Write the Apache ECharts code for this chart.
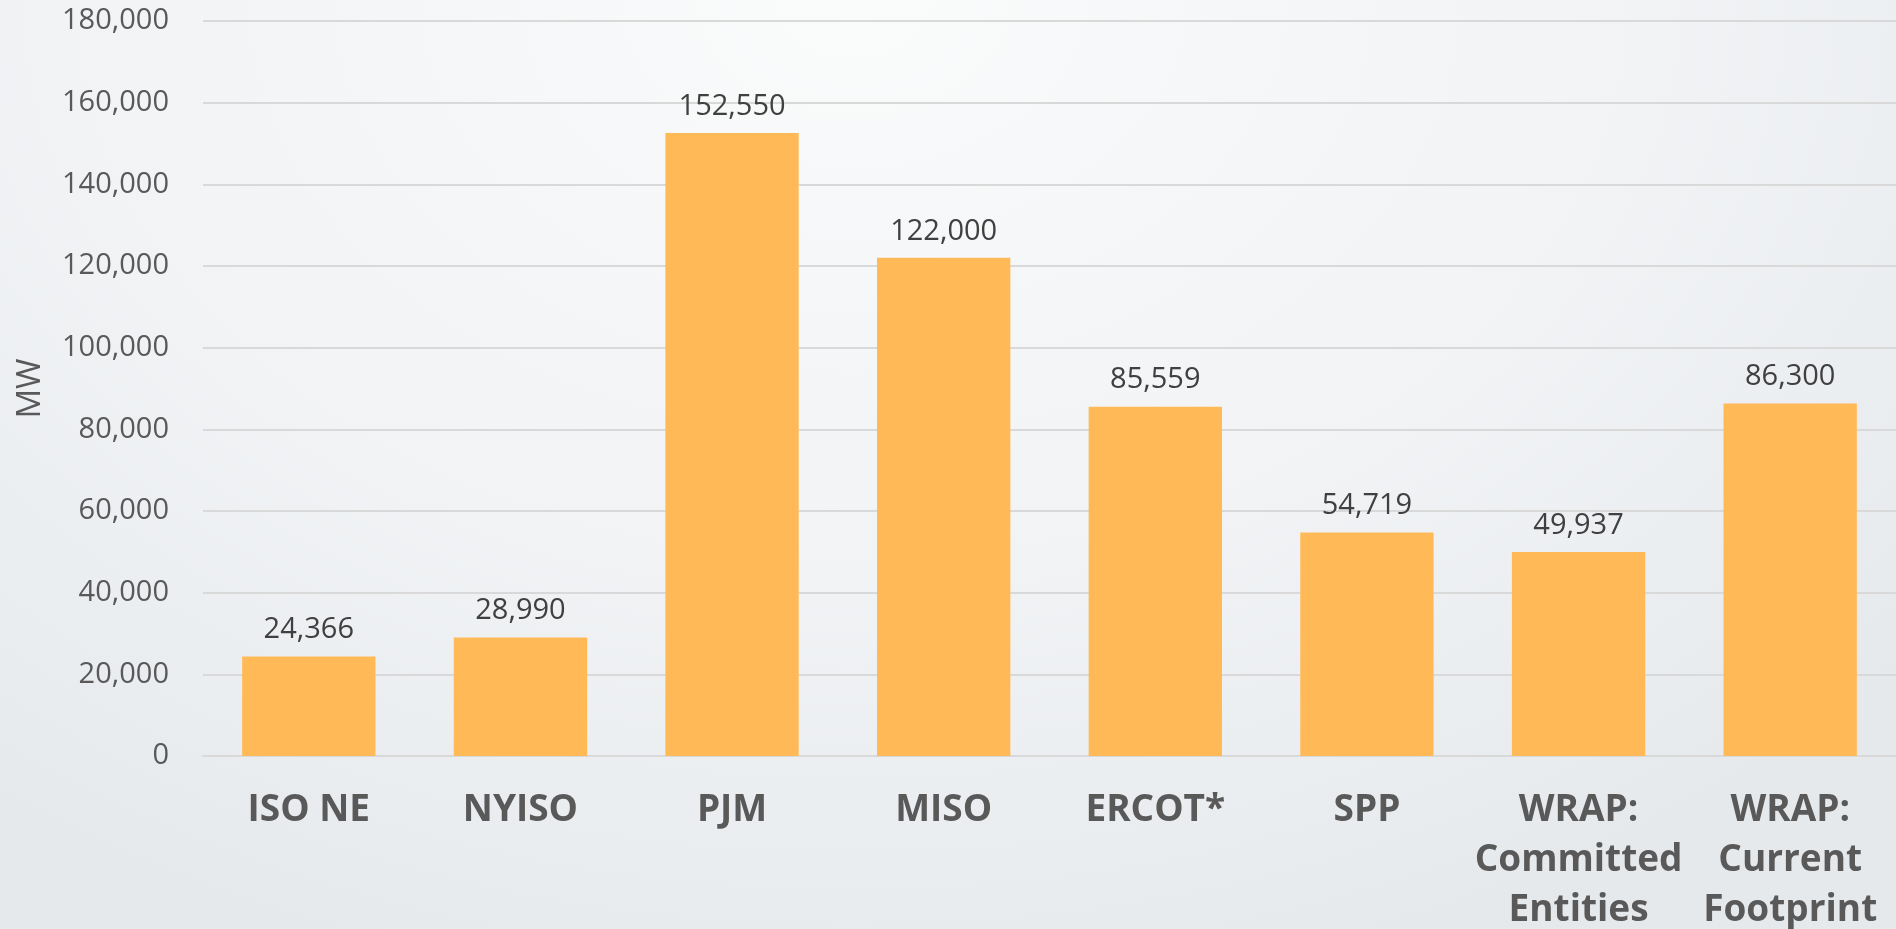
<!DOCTYPE html>
<html>
<head>
    <meta charset="utf-8" />
    <title>MW by region</title>
    <script src="https://cdn.jsdelivr.net/npm/echarts@6/dist/echarts.min.js"></script>
    <style>
        html, body { margin: 0; padding: 0; width: 100%; height: 100%; }
        body { background: radial-gradient(ellipse 75% 110% at 45% 0%, #fafbfb 0%, #f1f3f5 55%, #e6e9ec 100%); }
        #chart { width: 1896px; height: 929px; }
    </style>
</head>
<body>
<div id="chart"></div>
<script>
    // data
    var regions = ['ISO NE', 'NYISO', 'PJM', 'MISO', 'ERCOT*', 'SPP', 'WRAP:\nCommitted\nEntities', 'WRAP:\nCurrent\nFootprint'];
    var mwValues = [24366, 28990, 152550, 122000, 85559, 54719, 49937, 86300];
    var yTicks = [0, 20000, 40000, 60000, 80000, 100000, 120000, 140000, 160000, 180000];

    function fmt(v) {
        return String(v).replace(/\B(?=(\d{3})+(?!\d))/g, ',');
    }

    var myChart = echarts.init(document.getElementById('chart'));
    var font = '"Open Sans", "Noto Sans", sans-serif';
    myChart.setOption({
        backgroundColor: 'transparent',
        textStyle: { fontFamily: font },
        grid: { left: 203, right: 0, top: 21, bottom: 173, containLabel: false, outerBoundsMode: 'none' },
        xAxis: {
            type: 'category',
            data: regions,
            axisTick: { show: false },
            axisLine: { lineStyle: { color: '#d9d9d9', width: 2 } },
            axisLabel: {
                interval: 0,
                margin: 29,
                color: '#595959',
                fontSize: 37,
                fontWeight: 'bold',
                lineHeight: 50,
                fontFamily: font
            }
        },
        yAxis: {
            type: 'value',
            min: yTicks[0],
            max: yTicks[yTicks.length - 1],
            interval: yTicks[1] - yTicks[0],
            name: 'MW',
            nameLocation: 'middle',
            nameGap: 156,
            nameTextStyle: { color: '#595959', fontSize: 33, fontFamily: font },
            axisLine: { show: false },
            axisTick: { show: false },
            splitLine: { lineStyle: { color: '#d9d9d9', width: 2 } },
            axisLabel: {
                margin: 34,
                color: '#595959',
                fontSize: 29,
                fontFamily: font,
                formatter: fmt
            }
        },
        series: [{
            type: 'bar',
            data: mwValues,
            barCategoryGap: '37%',
            itemStyle: { color: '#ffba57' },
            label: {
                show: true,
                position: 'top',
                distance: 12,
                color: '#404040',
                fontSize: 29,
                fontFamily: font,
                formatter: function (p) { return fmt(p.value); }
            }
        }]
    });
</script>
</body>
</html>
